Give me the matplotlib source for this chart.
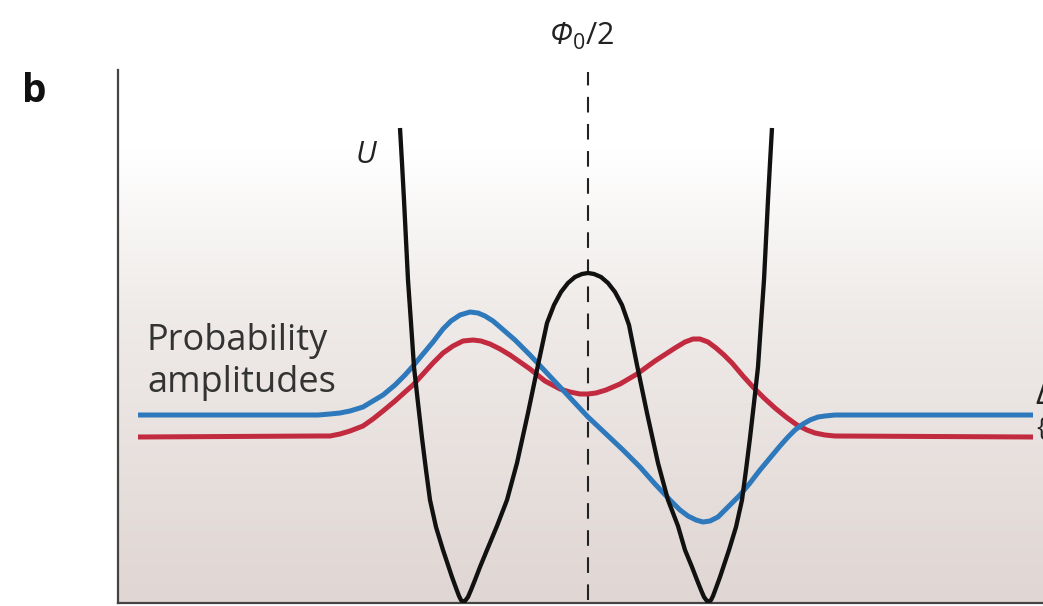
import numpy as np
import matplotlib
matplotlib.use("Agg")
import matplotlib.pyplot as plt
from matplotlib.colors import LinearSegmentedColormap

plt.rcParams["mathtext.fontset"] = "custom"
plt.rcParams["mathtext.rm"] = "Open Sans"
plt.rcParams["mathtext.sf"] = "Open Sans:italic"
plt.rcParams["mathtext.it"] = "Open Sans:italic"

# ---- data (flux position, energy / amplitude in arbitrary units) ----
u_x = [282, 284, 286, 288, 290, 293, 296, 300, 304, 308, 312, 318, 325, 330, 334, 338,
       341, 343, 345, 347, 350, 353, 357, 362, 369, 379, 389, 399, 410, 420, 429, 436,
       443, 450, 457, 464, 470, 476, 483, 490, 497, 504, 511, 519, 529, 540, 550, 560,
       567, 574, 579, 583, 586, 589, 591, 593, 595, 598, 602, 606, 611, 618, 624, 628,
       632, 636, 640, 643, 646, 648, 650, 652, 654]
u_y = [475, 440, 403, 363, 323, 280, 236, 200, 165, 133, 103, 76, 53, 38, 26, 15,
       7, 3, 1, 2, 6, 13, 23, 36, 53, 77, 103, 140, 190, 238, 280, 298,
       311, 320, 326, 329, 330, 329, 326, 320, 311, 298, 278, 238, 190, 140, 103, 77,
       53, 36, 23, 13, 6, 2, 1, 3, 7, 15, 26, 38, 53, 76, 103, 133,
       165, 200, 236, 280, 323, 363, 403, 440, 475]

blue_x = [20, 200, 212, 222, 232, 245, 255, 265, 277, 287, 295, 305, 315, 325, 333, 342,
          352, 360, 367, 375, 382, 397, 412, 427, 442, 456, 470, 487, 505, 522, 537, 552,
          562, 570, 578, 585, 592, 600, 610, 622, 632, 642, 652, 662, 670, 677, 685, 692,
          700, 707, 717, 727, 915]
blue_y = [188, 188, 189, 190, 192, 196, 202, 208, 218, 228, 237, 249, 261, 274, 282, 288,
          291, 290, 287, 282, 276, 263, 248, 232, 216, 201, 186, 170, 153, 136, 119, 103,
          93, 87, 83, 81, 82, 86, 96, 108, 120, 133, 145, 157, 166, 173, 179, 183,
          186, 187, 188, 188, 188]

red_x = [20, 200, 212, 222, 232, 245, 255, 265, 277, 287, 295, 305, 315, 325, 335, 345,
         355, 363, 372, 382, 392, 402, 412, 427, 442, 452, 462, 470, 478, 488, 502, 519,
         537, 557, 567, 575, 582, 590, 598, 606, 614, 625, 635, 646, 657, 668, 679, 689,
         697, 707, 717, 915]
red_y = [166, 167, 167, 169, 172, 177, 184, 192, 202, 211, 218, 229, 240, 250, 257, 262,
         263, 262, 259, 254, 248, 241, 234, 222, 214, 211, 209, 209, 210, 213, 219, 229,
         242, 255, 261, 264, 264, 261, 255, 248, 240, 227, 216, 205, 195, 186, 178, 173,
         170, 168, 167, 166]

half_flux = 470          # position of Phi_0/2
x_max, y_max = 925, 533

# ---- figure ----
W, H = 1043, 606
fig = plt.figure(figsize=(W / 100, H / 100), dpi=100)
fig.patch.set_facecolor("white")
ax = fig.add_axes([118 / W, 3 / H, 925 / W, 533 / H])
ax.set_xlim(0, x_max)
ax.set_ylim(0, y_max)

# background gradient (white top -> pinkish grey bottom)
t = np.linspace(0, 1, 256)[:, None]
cmap = LinearSegmentedColormap.from_list(
    "bg", [(0.0, "#e0d6d3"), (0.55, "#efebe9"), (0.85, "#ffffff"), (1.0, "#ffffff")])
ax.imshow(t, aspect="auto", cmap=cmap, origin="lower",
          extent=[0, x_max, 0, y_max], zorder=0, interpolation="bilinear")

for s in ["top", "right"]:
    ax.spines[s].set_visible(False)
for s in ["left", "bottom"]:
    ax.spines[s].set_color("#444444")
    ax.spines[s].set_linewidth(1.6)
ax.set_xticks([])
ax.set_yticks([])

ax.plot(blue_x, blue_y, color="#2e78bc", lw=3.6, solid_capstyle="butt",
        solid_joinstyle="round", zorder=3)
ax.plot(red_x, red_y, color="#c12a3f", lw=3.6, solid_capstyle="butt",
        solid_joinstyle="round", zorder=2)
ax.plot(u_x, u_y, color="#111111", lw=3.1, solid_capstyle="butt",
        solid_joinstyle="round", zorder=4)

ax.plot([half_flux, half_flux], [3, 531], color="#222222", lw=1.5,
        dashes=(7.5, 5.5), clip_on=False, zorder=1)

font = ["Open Sans", "DejaVu Sans"]
ax.text(half_flux - 6, 558, r"$\mathsf{\Phi}_0/2$", ha="center", va="baseline",
        fontsize=22, color="#222222")
ax.text(248, 448, "U", fontsize=22, style="italic", family=font, color="#222222",
        ha="center", va="center")
ax.text(29, 241, "Probability\namplitudes", fontsize=26, family=font,
        color="#333333", ha="left", va="center", linespacing=1.2)
fig.text(34 / W, 1 - 91 / H, "b", fontsize=28, weight="bold", family=font,
         ha="center", va="center", color="#111111")
fig.text(1045 / W, 1 - 396 / H, "Δ", fontsize=24, family=font,
         ha="center", va="center", color="#222222")
fig.text(1036 / W, 1 - 428 / H, "{", fontsize=18, family=font,
         ha="left", va="center", color="#222222")

fig.savefig("out.png", dpi=100)
